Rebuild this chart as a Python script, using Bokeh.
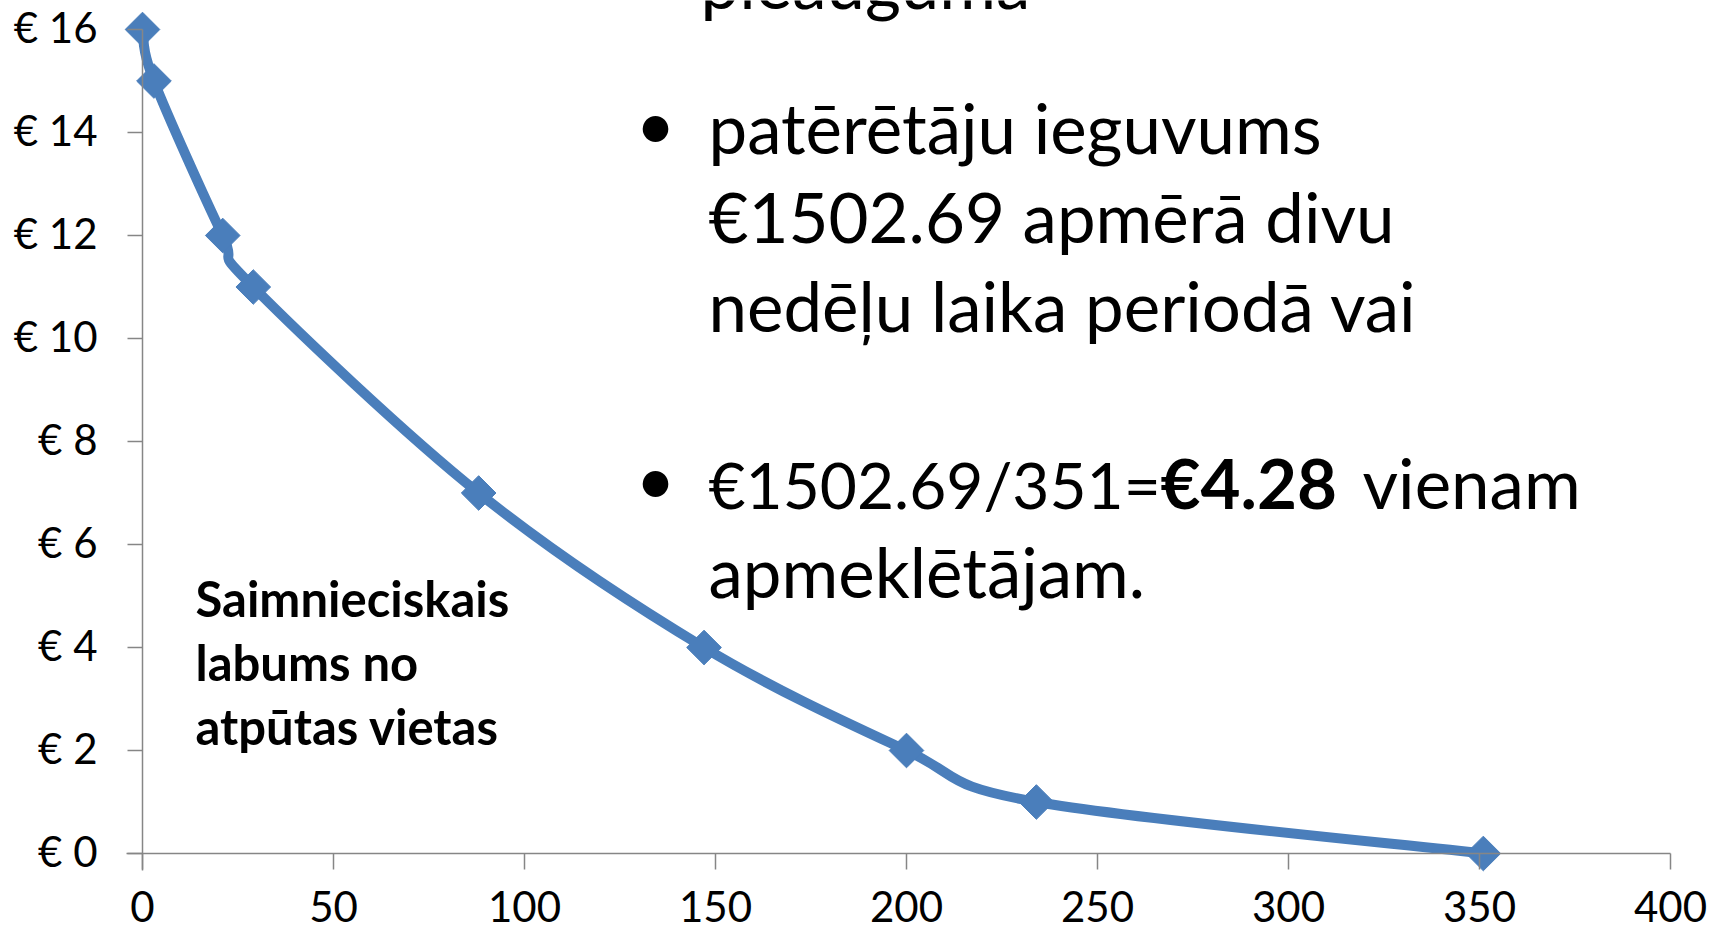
import numpy as np
from bokeh.plotting import figure
from bokeh.models import Range1d, FixedTicker, Label
from bokeh.embed import file_html
from bokeh.resources import INLINE

# ---- data ----
visitors = [0, 3, 21, 29, 88, 147, 200, 234, 351]
price = [16, 15, 12, 11, 7, 4, 2, 1, 0]
x_ticks = [0, 50, 100, 150, 200, 250, 300, 350, 400]
x_tick_labels = ["0", "50", "100", "150", "200", "250", "300", "350", "400"]
y_ticks = [0, 2, 4, 6, 8, 10, 12, 14, 16]
y_tick_labels = ["€ 0", "€ 2", "€ 4", "€ 6", "€ 8", "€ 10", "€ 12", "€ 14", "€ 16"]

BLUE = "#4A7EBB"
AXIS = "#868686"
FONT = "Lato"

W, H = 1708, 932
XS, YS = 3.82, 51.5          # px per visitor, px per euro
X0, Y0 = 142, 853            # page position of the (0, 0) corner


def X(px):
    return (px - X0) / XS


def Y(py):
    return (Y0 - py) / YS


p = figure(width=W, height=H,
           x_range=Range1d(X(0), X(W)), y_range=Range1d(Y(H), Y(0)),
           x_axis_location="above", y_axis_location="right",
           output_backend="svg", toolbar_location=None,
           min_border_left=0, min_border_right=0, min_border_top=0, min_border_bottom=0)
p.grid.visible = False
p.outline_line_color = None
p.background_fill_color = "white"
p.border_fill_color = "white"

# smoothed line (Catmull-Rom style bezier through the data points)
xs = np.array(visitors, float)
ys = np.array(price, float)
n = len(xs)
xp = np.concatenate([[xs[0]], xs, [xs[-1]]])
yp = np.concatenate([[ys[0]], ys, [ys[-1]]])
cx0 = xs[:-1] + (xp[2:n + 1] - xp[0:n - 1]) / 6.0
cy0 = ys[:-1] + (yp[2:n + 1] - yp[0:n - 1]) / 6.0
cx1 = xs[1:] - (xp[3:n + 2] - xp[1:n]) / 6.0
cy1 = ys[1:] - (yp[3:n + 2] - yp[1:n]) / 6.0
p.bezier(x0=xs[:-1], y0=ys[:-1], x1=xs[1:], y1=ys[1:], cx0=cx0, cy0=cy0, cx1=cx1, cy1=cy1,
         line_color=BLUE, line_width=10, line_cap="round")
p.scatter(visitors, price, marker="square", angle=np.pi / 4, size=24.5,
          fill_color=BLUE, line_color=BLUE, line_width=1)

# axes: placed at x=0 / y=0, ticks pointing outward of the chart area
for ax in (p.xaxis[0], p.yaxis[0]):
    ax.fixed_location = 0
    ax.axis_line_color = AXIS
    ax.axis_line_width = 1.5
    ax.major_tick_line_color = AXIS
    ax.major_tick_line_width = 1.5
    ax.major_tick_out = 0
    ax.minor_tick_line_color = None
    ax.major_label_text_color = None
    ax.major_label_standoff = 0

p.xaxis.ticker = FixedTicker(ticks=x_ticks)
p.xaxis.bounds = (X(126), 400)
p.xaxis.major_tick_in = 16

p.yaxis.ticker = FixedTicker(ticks=y_ticks)
p.yaxis.bounds = (Y(870), 16)
p.yaxis.major_tick_in = 15

EM = 0.39  # Bokeh draws alphabetic text this many em lower than the anchor


def lab(text, x, y_px, size, bold=False, align="left"):
    # x in data units, y_px is the wanted baseline (page pixels)
    p.add_layout(Label(x=x, y=Y(y_px - EM * size), text=text, text_font=FONT,
                       text_font_size=f"{size}px",
                       text_font_style="bold" if bold else "normal", text_color="black",
                       text_align=align, text_baseline="alphabetic"))


TICK = 42
for t, l in zip(x_ticks, x_tick_labels):
    lab(l, t, 922, TICK, align="center")
for t, l in zip(y_ticks, y_tick_labels):
    lab(l, X(97), Y0 - t * YS + 14, TICK, align="right")

BIG = 69
lab("pieauguma", X(700), 9, BIG)
lab("•", X(635), 150, BIG)
lab("patērētāju ieguvums", X(708), 154, BIG)
lab("€1502.69 apmērā divu", X(708), 243, BIG)
lab("nedēļu laika periodā vai", X(708), 332, BIG)
lab("•", X(635), 505, BIG)
lab("€1502.69/351=", X(708), 509, 64)
lab("€4.28", X(1160), 509, BIG, bold=True)
lab("vienam", X(1362), 509, BIG)
lab("apmeklētājam.", X(708), 598, BIG)

lab("Saimnieciskais", X(195), 617, 49, bold=True)
lab("labums  no", X(195), 681, 49, bold=True)
lab("atpūtas vietas", X(195), 745, 49, bold=True)

open("out.html", "w").write(file_html(p, INLINE))
